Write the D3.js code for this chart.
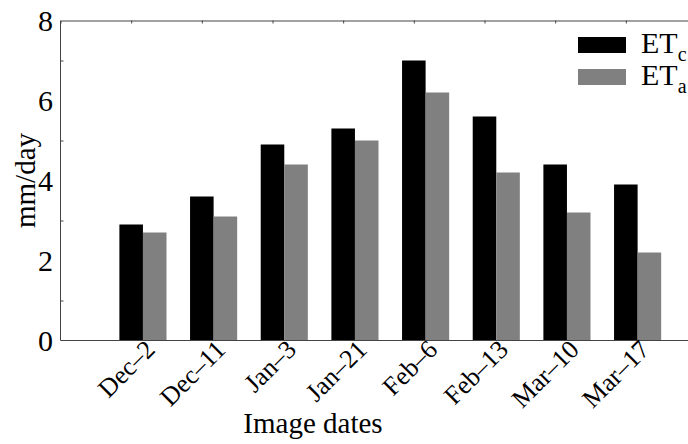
<!DOCTYPE html>
<html>
<head>
  <meta charset="utf-8" />
  <script src="https://cdnjs.cloudflare.com/ajax/libs/d3/7.8.5/d3.min.js"></script>
  <style>
    body { margin: 0; background: #fff; }
  </style>
</head>
<body>
  <svg id="chart" width="688" height="444"></svg>
  <script>
    const dates = ['Dec\u20132', 'Dec\u201311', 'Jan\u20133', 'Jan\u201321', 'Feb\u20136', 'Feb\u201313', 'Mar\u201310', 'Mar\u201317']
    const etc = [2.9, 3.6, 4.9, 5.3, 7.0, 5.6, 4.4, 3.9]
    const eta = [2.7, 3.1, 4.4, 5.0, 6.2, 4.2, 3.2, 2.2]
    const yTicks = [0, 2, 4, 6, 8]
    const yMinor = [1, 3, 5, 7]

    const svg = d3.select('#chart')
    const axisColor = '#444'
    const serif = "'Liberation Serif', 'Times New Roman', Times, serif"
    const fs = 29

    // category k sits at x = k (1..8), domain runs past the right edge
    let xScale = d3.scaleLinear().domain([0, 9]).range([60.5, 696.5])
    let yScale = d3.scaleLinear().domain([0, 8]).range([340.5, 20.5])
    const bw = (xScale(1) - xScale(0)) / 3

    // bars: black one centred on the tick, grey one just right of it
    const series = [
      { name: 'c', vals: etc, color: '#000000', off: -0.5 },
      { name: 'a', vals: eta, color: '#808080', off: 0.5 }
    ]
    series.forEach(function(s) {
      svg.append('g')
        .selectAll('rect')
        .data(s.vals)
        .enter()
        .append('rect')
        .attr('x', function(d, i) { return xScale(i + 1) + (s.off + 0.5) * bw - bw / 2 })
        .attr('width', bw)
        .attr('y', function(d) { return yScale(d) })
        .attr('height', function(d) { return yScale(0) - yScale(d) })
        .style('fill', s.color)
    })

    // left axis
    let yAxis = d3.axisLeft(yScale).tickValues(yMinor).tickSize(-3).tickFormat('')
    const gy = svg.append('g').attr('transform', 'translate(60.5,0)').call(yAxis)
    gy.select('path.domain').attr('d', 'M0,' + yScale(0) + 'V' + yScale(8))
    gy.selectAll('line, path').style('stroke', axisColor)

    svg.append('g')
      .selectAll('text')
      .data(yTicks)
      .enter()
      .append('text')
      .attr('x', 53)
      .attr('y', function(d) { return yScale(d) })
      .attr('dy', '0.35em')
      .attr('text-anchor', 'end')
      .style('font-family', serif)
      .style('font-size', '30px')
      .text(function(d) { return d })

    // top axis
    let xTop = d3.axisTop(xScale).tickValues(d3.range(1, 9)).tickSize(-3).tickFormat('')
    const gt = svg.append('g').attr('transform', 'translate(0,' + yScale(8) + ')').call(xTop)
    gt.selectAll('line, path').style('stroke', axisColor)

    // bottom axis line
    svg.append('line')
      .attr('x1', xScale(0)).attr('x2', xScale(9))
      .attr('y1', yScale(0)).attr('y2', yScale(0))
      .style('stroke', axisColor)

    // rotated category labels
    svg.append('g')
      .selectAll('text')
      .data(dates)
      .enter()
      .append('text')
      .attr('transform', function(d, i) {
        return 'translate(' + (xScale(i + 1) + bw / 2 + 7) + ',' + (yScale(0) + 4) + ') rotate(-45)'
      })
      .attr('text-anchor', 'end')
      .attr('dy', '0.35em')
      .style('font-family', serif)
      .style('font-size', '26px')
      .text(function(d) { return d })

    // axis titles
    svg.append('text')
      .attr('x', 313)
      .attr('y', 433)
      .attr('text-anchor', 'middle')
      .style('font-family', serif)
      .style('font-size', fs + 'px')
      .text('Image dates')

    svg.append('text')
      .attr('transform', 'translate(35,' + yScale(4) + ') rotate(-90)')
      .attr('text-anchor', 'middle')
      .style('font-family', serif)
      .style('font-size', fs + 'px')
      .text('mm/day')

    // legend
    const legend = svg.append('g').attr('transform', 'translate(578,37)')
    series.forEach(function(s, i) {
      legend.append('rect')
        .attr('x', 0).attr('y', i * 32)
        .attr('width', 48).attr('height', 16)
        .style('fill', s.color)
      const t = legend.append('text')
        .attr('x', 63).attr('y', i * 32 + 16)
        .style('font-family', serif)
        .style('font-size', '30px')
      t.append('tspan').text('ET')
      t.append('tspan').attr('dy', 8).style('font-size', '20px').text(s.name)
    })
  </script>
</body>
</html>
